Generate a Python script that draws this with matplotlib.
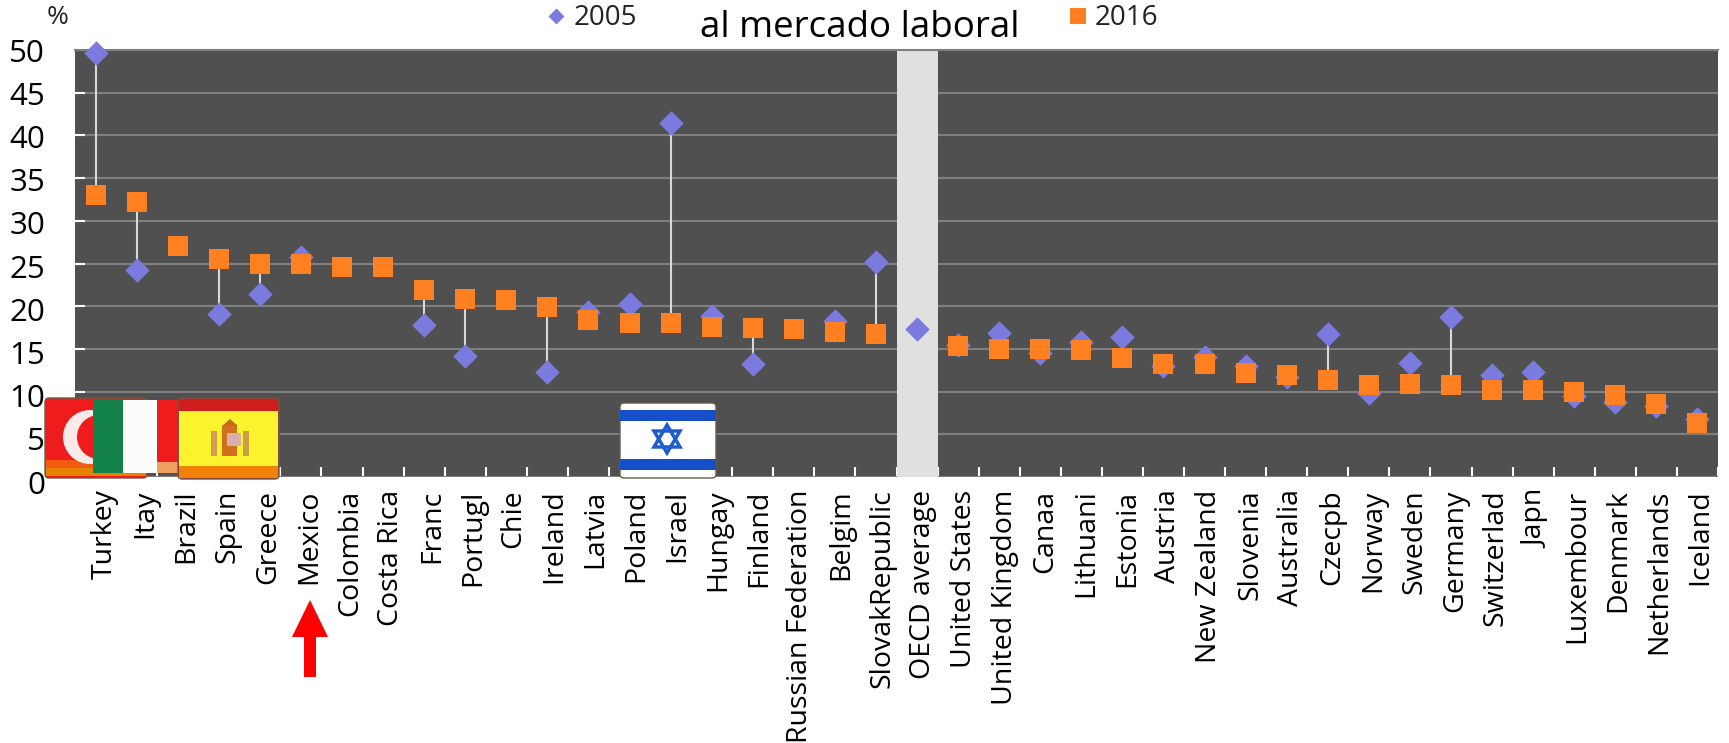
import matplotlib
matplotlib.use('Agg')
import matplotlib.pyplot as plt
import matplotlib.transforms as mtrans
from matplotlib.patches import Rectangle, Polygon, Circle, FancyBboxPatch

plt.rcParams['font.family'] = ['Open Sans', 'DejaVu Sans']

countries = ['Turkey', 'Itay', 'Brazil', 'Spain', 'Greece', 'Mexico', 'Colombia', 'Costa Rica',
             'Franc', 'Portugl', 'Chie', 'Ireland', 'Latvia', 'Poland', 'Israel', 'Hungay',
             'Finland', 'Russian Federation', 'Belgim', 'SlovakRepublic', 'OECD average',
             'United States', 'United Kingdom', 'Canaa', 'Lithuani', 'Estonia', 'Austria',
             'New Zealand', 'Slovenia', 'Australia', 'Czecpb', 'Norway', 'Sweden', 'Germany',
             'Switzerlad', 'Japn', 'Luxembour', 'Denmark', 'Netherlands', 'Iceland']
values_2005 = [49.6, 24.2, None, 19.1, 21.4, 25.8, None, None, 17.8, 14.2, None, 12.3, 19.3, 20.2,
               41.5, 18.9, 13.2, None, 18.3, 25.2, 17.3, 15.5, 16.9, 14.5, 15.8, 16.4, 13.0, 14.0,
               13.0, 11.7, 16.7, 9.8, 13.4, 18.7, 11.9, 12.3, 9.5, 8.8, 8.3, 6.8]
values_2016 = [33.0, 32.2, 27.0, 25.5, 25.0, 24.9, 24.6, 24.6, 21.9, 20.8, 20.7, 19.9, 18.4, 18.0,
               18.0, 17.6, 17.4, 17.3, 17.0, 16.7, None, 15.3, 15.0, 15.0, 14.9, 13.9, 13.2, 13.2,
               12.2, 12.0, 11.4, 10.8, 10.9, 10.8, 10.2, 10.2, 10.0, 9.6, 8.6, 6.3]
y_ticks = [0, 5, 10, 15, 20, 25, 30, 35, 40, 45, 50]

W, H = 1729, 743
fig = plt.figure(figsize=(W / 100, H / 100), dpi=100)
ax = fig.add_axes([75 / W, 1 - 477 / H, (1718 - 75) / W, (477 - 50) / H])
ax.set_facecolor('#505050')
ax.set_xlim(-0.5, len(countries) - 0.5)
ax.set_ylim(0, 50)

ax.set_yticks(y_ticks)
ax.grid(axis='y', color='#7f7f7f', lw=1.5, zorder=1)
ax.set_axisbelow(True)
ax.tick_params(axis='y', direction='in', length=7, width=1.5, color='white', labelsize=22.5, pad=21.5)
for v, lab in zip(y_ticks, ax.get_yticklabels()):
    # labels sit a little low near the bottom of the axis
    drop = (5 - v / 10) / 100
    lab.set_transform(lab.get_transform() + mtrans.ScaledTranslation(0, -drop, fig.dpi_scale_trans))
ax.set_xticks([i - 0.5 for i in range(len(countries) + 1)], minor=True)
ax.tick_params(axis='x', which='minor', direction='in', length=7, width=1.5, color='white')
ax.set_xticks(range(len(countries)))
ax.set_xticklabels(countries, rotation=90, fontsize=20.5)
ax.tick_params(axis='x', which='major', length=0, pad=9)
for i, lab in enumerate(ax.get_xticklabels()):
    shift = (9 - 6 * i / 39) / 100
    lab.set_transform(lab.get_transform() + mtrans.ScaledTranslation(shift, 0, fig.dpi_scale_trans))
for side in ['left', 'right', 'bottom']:
    ax.spines[side].set_visible(False)
ax.spines['top'].set_color('#7f7f7f')
ax.spines['top'].set_linewidth(1.5)

# OECD average band
ax.axvspan(19.52, 20.5, color='#e0e0e0', lw=0, zorder=2)

# high-low lines
for i, (a, b) in enumerate(zip(values_2005, values_2016)):
    if a is not None and b is not None:
        ax.plot([i, i], [a, b], color='#d9d9d9', lw=1.5, zorder=3, clip_on=False)

x05 = [i for i, v in enumerate(values_2005) if v is not None]
y05 = [v for v in values_2005 if v is not None]
x16 = [i for i, v in enumerate(values_2016) if v is not None]
y16 = [v for v in values_2016 if v is not None]
ax.scatter(x05, y05, marker='D', s=155, color='#7b7bdf', lw=0, zorder=4, clip_on=False)
ax.scatter(x16, y16, marker='s', s=195, color='#ff8020', lw=0, zorder=5, clip_on=False)

# overlay in pixel coordinates for legend, title, flags and arrow
ov = fig.add_axes([0, 0, 1, 1], zorder=10)
ov.set_xlim(0, W)
ov.set_ylim(H, 0)
ov.axis('off')


def rect(x0, y0, x1, y1, color, z=1):
    ov.add_patch(Rectangle((x0, y0), x1 - x0, y1 - y0, color=color, lw=0, zorder=z))


def base(x0, y0, x1, y1, color, z):
    ov.add_patch(FancyBboxPatch((x0 + 3, y0 + 3), x1 - x0 - 6, y1 - y0 - 6, boxstyle='round,pad=3,rounding_size=4',
                                fc=color, ec='#6b5a45', lw=1, zorder=z))


ov.text(860, 28, 'al mercado laboral', fontsize=26.5, ha='center', va='center')
ov.text(58, 17, '%', fontsize=19, ha='center', va='center', color='#222222')
ov.scatter([556], [16], marker='D', s=66, color='#7b7bdf', lw=0)
ov.text(574, 18, '2005', fontsize=20, ha='left', va='center', color='#222222')
ov.scatter([1078], [16], marker='s', s=133, color='#ff8020', lw=0)
ov.text(1095, 18, '2016', fontsize=20, ha='left', va='center', color='#222222')

# Turkey flag
base(45, 398, 147, 478, '#ee1c1c', 20)
rect(46, 460, 146, 468, '#f25a10', 20)
rect(46, 468, 146, 476, '#e88000', 20)
ov.add_patch(Circle((90, 437), 27, color='#fbeaea', lw=0, zorder=21))
ov.add_patch(Circle((99, 437), 22, color='#ee1c1c', lw=0, zorder=22))
# Italy flag
rect(93, 400, 123, 473, '#12814a', 30)
rect(123, 400, 157, 473, '#fbfdfb', 30)
rect(157, 400, 180, 473, '#ee1c1c', 30)
rect(157, 462, 180, 473, '#f0a060', 30)
# Spain flag
base(178, 398, 279, 479, '#d21d1d', 40)
rect(179, 411, 278, 466, '#fdf22e', 41)
rect(179, 466, 278, 478, '#f08208', 41)
rect(222, 426, 237, 456, '#d0701c', 42)
rect(227, 433, 241, 446, '#d8b0a8', 43)
rect(211, 431, 217, 456, '#d89a50', 42)
rect(243, 431, 249, 456, '#c8a040', 42)
ov.add_patch(Polygon([(222, 426), (230, 419), (238, 426)], color='#c86818', lw=0, zorder=42))
# Israel flag
base(620, 403, 716, 478, 'white', 20)
rect(620, 410, 716, 421, '#1550c8', 21)
rect(620, 459, 716, 470, '#1550c8', 21)
ov.add_patch(Polygon([(667, 425), (680, 447), (654, 447)], fill=False, ec='#1f5ccc', lw=2.5, zorder=21))
ov.add_patch(Polygon([(667, 453), (680, 431), (654, 431)], fill=False, ec='#1f5ccc', lw=2.5, zorder=21))

# Mexico arrow
ov.add_patch(Polygon([(310, 600), (328, 637), (316, 637), (316, 677), (304, 677), (304, 637), (292, 637)],
                     color='#ff0000', lw=0, zorder=50))

fig.savefig('out.png', dpi=100)
